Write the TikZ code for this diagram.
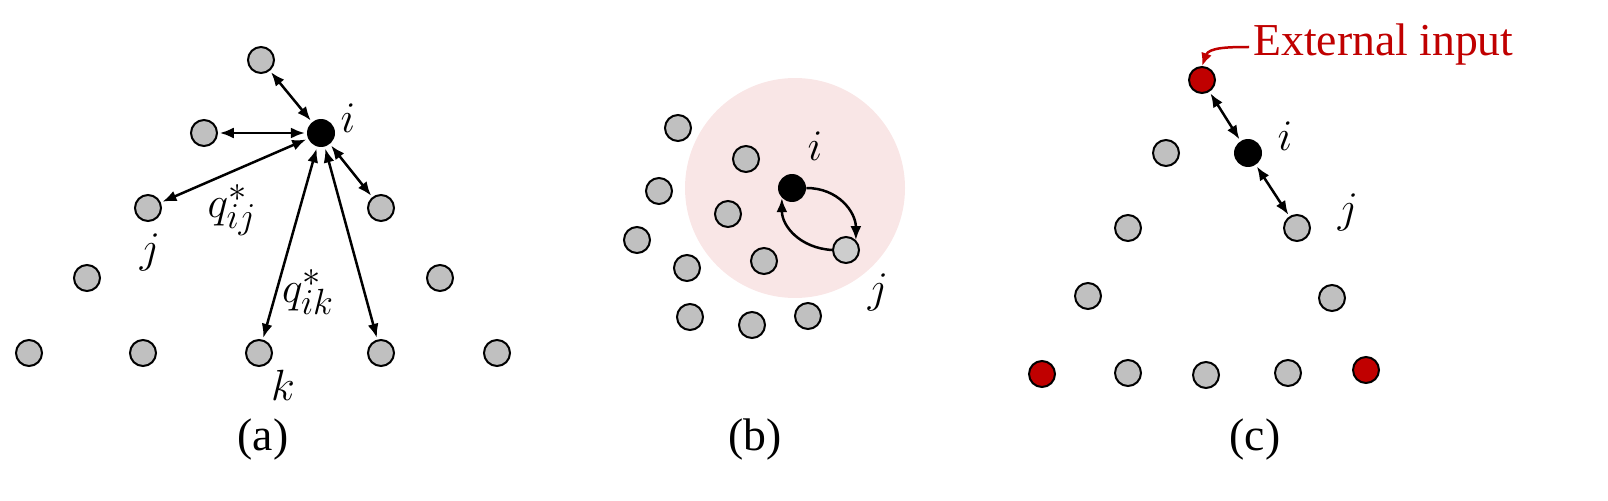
\documentclass[tikz,border=0pt]{standalone}
\usepackage{fontspec}
\setmainfont{Liberation Serif}
\usetikzlibrary{arrows.meta}
\definecolor{dotgray}{RGB}{192,192,192}
\definecolor{extred}{RGB}{192,0,0}
\definecolor{zonepink}{RGB}{249,230,230}
\begin{document}
\begin{tikzpicture}[x=0.02cm, y=-0.02cm, font=\fontsize{26}{31}\selectfont,
  nd/.style={circle,draw=black,fill=dotgray,line width=0.04cm,minimum size=0.52cm,inner sep=0pt},
  me/.style={circle,fill=black,minimum size=0.56cm,inner sep=0pt},
  ext/.style={nd,fill=extred},
  tip/.style={-{Latex[length=0.28cm,width=0.22cm]},line width=0.05cm},
  link/.style={{Latex[length=0.28cm,width=0.22cm]}-{Latex[length=0.28cm,width=0.22cm]},line width=0.05cm,shorten <=1pt,shorten >=1pt},
  lab/.style={font=\fontsize{30}{34}\selectfont}]
\useasboundingbox (0,0) rectangle (1608,500);

% (a)
\node[me] at (321,133)(ai) {};
\node[nd] at (261,60)(a1) {};
\node[nd] at (204,133)(a2) {};
\node[nd] at (148,208)(aj) {};
\node[nd] at (381,208)(a3) {};
\node[nd] at (87,278)(a4) {};
\node[nd] at (440,278)(a5) {};
\node[nd] at (29,353)(a6) {};
\node[nd] at (143,353)(a7) {};
\node[nd] at (259,353)(ak) {};
\node[nd] at (381,353)(a8) {};
\node[nd] at (497,353)(a9) {};

\draw[link] (ai) -- (a1);
\draw[link] (ai) -- (a2);
\draw[link] (ai) -- (aj);
\draw[link] (ai) -- (a3);
\draw[link] (ai) -- (ak);
\draw[link] (ai) -- (a8);

\node[lab] (ailab) at (348,118) {$i$};
\node[lab] (ajlab) at (150,252) {$j$};
\node[lab] (aklab) at (283,385) {$k$};
\node[lab] (qij) at (232,210) {$q^*_{ij}$};
\node[lab] (qik) at (308,292) {$q^*_{ik}$};
\node (capa) at (263,440) {(a)};

% (b)
\fill[zonepink] (795,188) circle (110);
\node[nd] at (678,128)(b1) {};
\node[nd] at (746,159)(b2) {};
\node[nd] at (659,191)(b3) {};
\node[nd] at (728,214)(b4) {};
\node[nd] at (637,240)(b5) {};
\node[nd] at (687,268)(b6) {};
\node[nd] at (764,261)(b7) {};
\node[nd] at (690,317)(b8) {};
\node[nd] at (752,325)(b9) {};
\node[nd] at (808,316)(b10) {};
\node[me] at (792,188)(bi) {};
\node[nd,fill=dotgray!80] at (846,250)(bj) {};

\draw[tip] (bi.east) .. controls +(32,0) and +(0,-28) .. (bj.north east);
\draw[tip] (bj.west) .. controls +(-32,-2) and +(0,28) .. (bi.south west);

\node[lab] (bilab) at (815,146) {$i$};
\node[lab] (bjlab) at (878,292) {$j$};
\node (capb) at (755,440) {(b)};

% (c)
\node[ext] at (1202,80)(c0) {};
\node[me] at (1248,153)(ci) {};
\node[nd] at (1166,153)(c1) {};
\node[nd] at (1128,228)(c2) {};
\node[nd] at (1297,228)(cj) {};
\node[nd] at (1088,296)(c3) {};
\node[nd] at (1332,298)(c4) {};
\node[ext] at (1042,374)(c5) {};
\node[nd] at (1128,373)(c6) {};
\node[nd] at (1206,375)(c7) {};
\node[nd] at (1288,373)(c8) {};
\node[ext] at (1366,370)(c9) {};

\draw[link] (ci) -- (c0);
\draw[link] (ci) -- (cj);

\node[text=extred,anchor=west,inner sep=0pt] (extlab) at (1253,45) {External input};
\draw[extred,line width=0.05cm,-{Latex[length=0.26cm,width=0.22cm]}] (extlab.west) ++(-4,2) to[out=180,in=70] (c0.north);

\node[lab] (cilab) at (1285,136) {$i$};
\node[lab] (cjlab) at (1348,212) {$j$};
\node (capc) at (1255,440) {(c)};
\end{tikzpicture}
\end{document}
